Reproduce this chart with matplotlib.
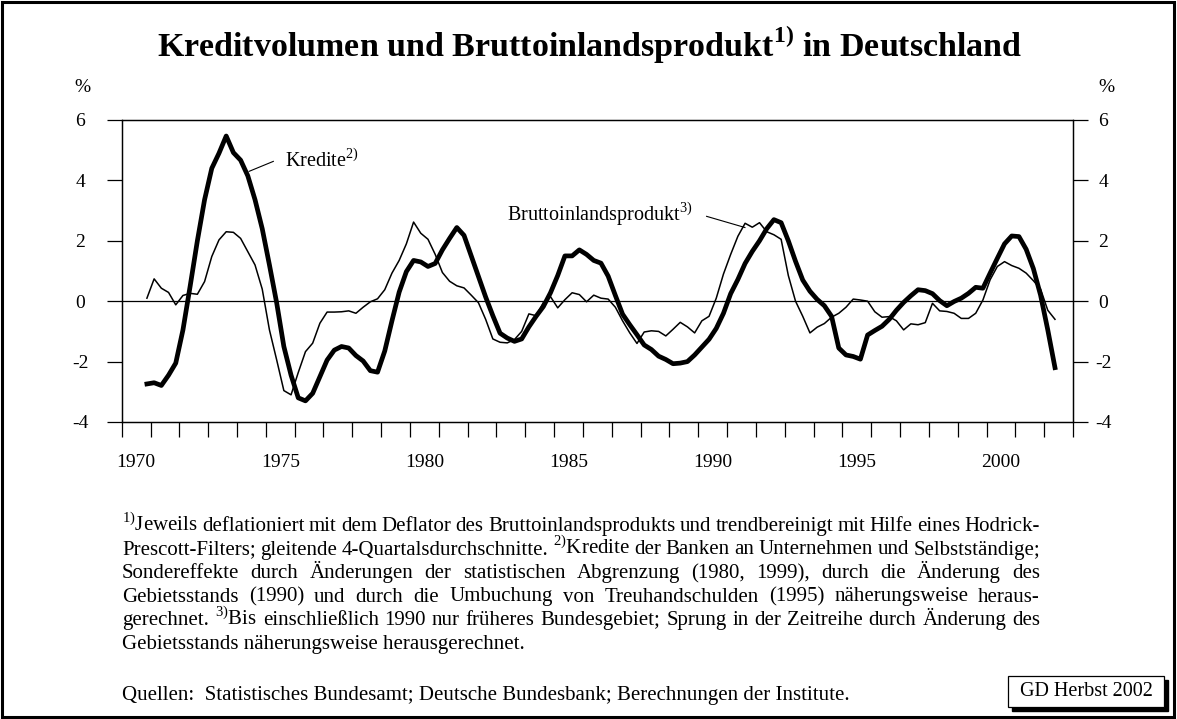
import numpy as np
import matplotlib.pyplot as plt
from matplotlib.patches import Rectangle

plt.rcParams['font.family'] = ['Liberation Serif', 'DejaVu Serif']
plt.rcParams['mathtext.fontset'] = 'custom'
plt.rcParams['mathtext.rm'] = 'Liberation Serif'
plt.rcParams['mathtext.bf'] = 'Liberation Serif:bold'
plt.rcParams['axes.unicode_minus'] = False

# Quartalswerte, erstes Quartal 1970 Q4
start_year = 1970
start_quarter = 4
kredite = [
    -2.74, -2.70, -2.79, -2.45, -2.05, -0.95, 0.50, 2.00, 3.36, 4.40,
    4.90, 5.47, 4.92, 4.67, 4.15, 3.36, 2.40, 1.20, -0.05, -1.50,
    -2.45, -3.20, -3.30, -3.05, -2.50, -1.95, -1.62, -1.50, -1.55, -1.80,
    -1.98, -2.30, -2.35, -1.65, -0.65, 0.30, 0.98, 1.35, 1.30, 1.15,
    1.25, 1.70, 2.08, 2.44, 2.18, 1.50, 0.82, 0.14, -0.48, -1.06,
    -1.22, -1.33, -1.25, -0.85, -0.50, -0.18, 0.28, 0.85, 1.50, 1.50,
    1.70, 1.55, 1.35, 1.26, 0.83, 0.19, -0.43, -0.78, -1.11, -1.45,
    -1.60, -1.82, -1.93, -2.07, -2.05, -2.00, -1.78, -1.52, -1.26, -0.90,
    -0.40, 0.25, 0.72, 1.25, 1.65, 2.00, 2.40, 2.70, 2.60, 2.00,
    1.32, 0.70, 0.33, 0.06, -0.15, -0.50, -1.55, -1.78, -1.83, -1.92,
    -1.12, -0.97, -0.83, -0.60, -0.30, -0.04, 0.18, 0.38, 0.35, 0.25,
    0.02, -0.15, -0.01, 0.10, 0.26, 0.46, 0.43, 0.93, 1.42, 1.90,
    2.16, 2.14, 1.72, 1.08, 0.20, -0.95, -2.20,
]
bip = [
    0.10, 0.74, 0.43, 0.29, -0.12, 0.19, 0.26, 0.23, 0.65, 1.48,
    2.03, 2.30, 2.28, 2.08, 1.64, 1.20, 0.40, -0.95, -1.94, -2.96,
    -3.10, -2.36, -1.67, -1.39, -0.73, -0.36, -0.36, -0.35, -0.32, -0.40,
    -0.20, -0.02, 0.08, 0.38, 0.93, 1.35, 1.90, 2.62, 2.25, 2.05,
    1.55, 0.95, 0.66, 0.51, 0.44, 0.20, -0.05, -0.60, -1.25, -1.36,
    -1.38, -1.27, -1.00, -0.42, -0.48, -0.05, 0.15, -0.22, 0.05, 0.28,
    0.22, -0.02, 0.20, 0.10, 0.07, -0.20, -0.65, -1.05, -1.40, -1.02,
    -0.98, -1.00, -1.15, -0.93, -0.70, -0.85, -1.05, -0.65, -0.50, 0.10,
    0.90, 1.55, 2.15, 2.58, 2.45, 2.60, 2.30, 2.20, 2.05, 0.85,
    0.00, -0.50, -1.05, -0.86, -0.74, -0.53, -0.40, -0.20, 0.07, 0.04,
    0.00, -0.35, -0.53, -0.51, -0.65, -0.95, -0.75, -0.78, -0.71, -0.07,
    -0.32, -0.34, -0.40, -0.57, -0.57, -0.40, 0.04, 0.71, 1.15, 1.31,
    1.18, 1.09, 0.93, 0.68, 0.40, -0.30, -0.60,
]
year_labels = ['1970', '1975', '1980', '1985', '1990', '1995', '2000']
y_ticks = [-4, -2, 0, 2, 4, 6]

title = 'Kreditvolumen und Bruttoinlandsprodukt$^{\\mathbf{1)}}$ in Deutschland'
footnote = [
    '$^{1)}$Jeweils deflationiert mit dem Deflator des Bruttoinlandsprodukts und trendbereinigt mit Hilfe eines Hodrick-',
    'Prescott-Filters; gleitende 4-Quartalsdurchschnitte. $^{2)}$Kredite der Banken an Unternehmen und Selbstständige;',
    'Sondereffekte durch Änderungen der statistischen Abgrenzung (1980, 1999), durch die Änderung des',
    'Gebietsstands (1990) und durch die Umbuchung von Treuhandschulden (1995) näherungsweise heraus-',
    'gerechnet. $^{3)}$Bis einschließlich 1990 nur früheres Bundesgebiet; Sprung in der Zeitreihe durch Änderung des',
    'Gebietsstands näherungsweise herausgerechnet.',
]
quellen = 'Quellen:  Statistisches Bundesamt; Deutsche Bundesbank; Berechnungen der Institute.'

W, H = 1177, 719
fig = plt.figure(figsize=(W / 100, H / 100), dpi=100)
ax = fig.add_axes([121.7 / W, 1 - 422 / H, (1073 - 121.7) / W, 302 / H])

# Zeitachse: Quartalsmitte
t = start_year + (start_quarter - 0.5) / 4 + np.arange(len(kredite)) / 4
ax.plot(t, bip, color='black', lw=1.1, zorder=3)
ax.plot(t, kredite, color='black', lw=3.4, zorder=4)
ax.axhline(0, color='black', lw=0.9, zorder=2)

ax.set_xlim(1970, 2003)
ax.set_ylim(-4, 6)
ax.set_xticks(np.arange(1970, 2004))
ax.set_xticklabels([])
ax.set_xticks([int(s) + 0.5 for s in year_labels], minor=True)
ax.set_xticklabels(year_labels, minor=True)
ax.tick_params(axis='x', which='major', direction='out', length=10.8, width=0.9)
ax.tick_params(axis='x', which='minor', length=0, pad=23, labelsize=14)

ax.set_yticks(y_ticks)
ax.set_yticklabels([str(v) for v in y_ticks])
ax.tick_params(axis='y', direction='out', length=10.8, width=0.9, labelsize=14,
               pad=19, left=True, right=False)
for lab in ax.get_yticklabels():
    lab.set_ha('center')

# rechte Achse mit eigenem Abstand
ax2 = ax.twinx()
ax2.set_ylim(-4, 6)
ax2.set_yticks(y_ticks)
ax2.set_yticklabels([str(v) for v in y_ticks])
ax2.tick_params(axis='y', direction='out', length=10.8, width=0.9, labelsize=14, pad=11)
for lab in ax2.get_yticklabels():
    lab.set_ha('center')
for a in (ax, ax2):
    for sp in a.spines.values():
        sp.set_linewidth(0.9)

# Beschriftungen der Linien
ax.text(1975.66, 4.63, 'Kredite$^{2)}$', fontsize=14.5, va='center', ha='left')
ax.plot([1975.26, 1974.42], [4.63, 4.30], color='black', lw=0.8)
ax.text(1983.35, 2.86, 'Bruttoinlandsprodukt$^{3)}$', fontsize=14.5, va='center', ha='left')
ax.plot([1990.29, 1991.62], [2.81, 2.44], color='black', lw=0.8)

fig.text(590 / W, 1 - 45 / H, title, fontsize=24.5, fontweight='bold', ha='center', va='center')
fig.text(82 / W, 1 - 87 / H, '%', fontsize=14, ha='center', va='center')
fig.text(1106 / W, 1 - 87 / H, '%', fontsize=14, ha='center', va='center')

# Fussnoten, Blocksatz (letzte Zeile linksbuendig)
fig.canvas.draw()
r = fig.canvas.get_renderer()
x0, x1 = 122, 1040
for i, line in enumerate(footnote):
    y = 1 - (531 + 23.5 * i) / H
    if i == len(footnote) - 1:
        fig.text(x0 / W, y, line, fontsize=15, va='baseline', ha='left')
        continue
    words = line.split(' ')
    texts = [fig.text(0, y, w, fontsize=15, va='baseline', ha='left') for w in words]
    widths = [tx.get_window_extent(r).width for tx in texts]
    gap = (x1 - x0 - sum(widths)) / (len(words) - 1)
    x = x0
    for tx, wd in zip(texts, widths):
        tx.set_x(x / W)
        x += wd + gap
fig.text(x0 / W, 1 - 700 / H, quellen, fontsize=15, va='baseline', ha='left')

# Kasten unten rechts mit Schatten
bx, by, bw, bh = 1008, 676, 156, 31
fig.patches.append(Rectangle(((bx + 4) / W, 1 - (by + bh + 4) / H), bw / W, bh / H,
                             transform=fig.transFigure, facecolor='black', edgecolor='black'))
fig.patches.append(Rectangle((bx / W, 1 - (by + bh) / H), bw / W, bh / H,
                             transform=fig.transFigure, facecolor='white', edgecolor='black', lw=0.9))
fig.text((bx + bw / 2) / W, 1 - (by + bh / 2) / H, 'GD Herbst 2002', fontsize=14.5,
         ha='center', va='center')

# Rahmen
fig.patches.append(Rectangle((2 / W, 2 / H), (W - 5) / W, (H - 4) / H, transform=fig.transFigure,
                             fill=False, edgecolor='black', lw=2.2))

fig.savefig('out.png', dpi=100)
